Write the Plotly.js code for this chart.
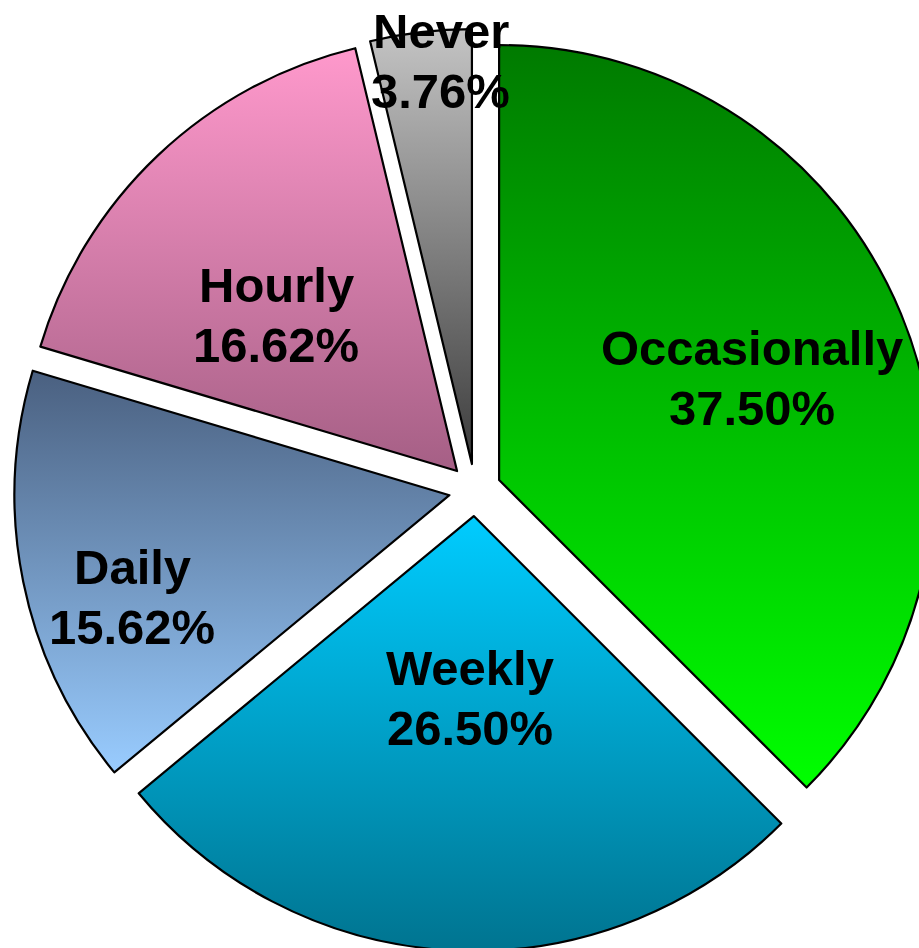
<!DOCTYPE html>
<html>
<head>
<meta charset="utf-8">
<script src="https://cdn.plot.ly/plotly-3.0.1.min.js"></script>
<style>
  html, body { margin: 0; padding: 0; background: #ffffff; overflow: hidden; }
  #chart { width: 936px; height: 951px; }
</style>
</head>
<body>
<div id="chart"></div>
<script>
// ---- data ----
const categories = ['Occasionally', 'Weekly', 'Daily', 'Hourly', 'Never'];
const shares = [37.50, 26.50, 15.62, 16.62, 3.76];

// ---- styles ----
const gradientStops = [
  ['#007A00', '#00FF00'],
  ['#00CCFF', '#007490'],
  ['#4A6080', '#99CCFF'],
  ['#FF99CC', '#A55F85'],
  ['#C4C4C4', '#3C3C3C']
];
const flatColors = ['#00BB00', '#00A0C8', '#7296C0', '#D07CA8', '#808080'];
const labelRadius = [0.687, 0.478, 0.825, 0.609, 0.99];
const labelAngleShift = [0.5, -1.3, -5.8, -5.2, 2.2];
const labelFontSize = 49;
const labelLineGap = 60;

const W = 936, H = 951;
const margin = {l: 14, r: 0, t: 29, b: 0};
const pullFrac = 0.06;

// geometry, following the pie's own sizing
const plotW = W - margin.l - margin.r;
const plotH = H - margin.t - margin.b;
const radius = Math.min(plotW, plotH) / (2 + 2 * pullFrac);
const cx = margin.l + plotW / 2;
const cy = margin.t + plotH / 2;
const total = shares.reduce((a, b) => a + b, 0);

const annotations = [];
let cum = 0;
shares.forEach((v, i) => {
  const mid = (cum + v / 2) / total;
  cum += v;
  const theta = (mid * 360 + labelAngleShift[i]) * Math.PI / 180;
  const px = cx + labelRadius[i] * radius * Math.sin(theta);
  const py = cy - labelRadius[i] * radius * Math.cos(theta);
  const lines = [categories[i], v.toFixed(2) + '%'];
  lines.forEach((txt, k) => {
    const ly = py + (k - 0.5) * labelLineGap;
    annotations.push({
      xref: 'paper', yref: 'paper',
      x: (px - margin.l) / plotW,
      y: 1 - (ly - margin.t) / plotH,
      xanchor: 'center', yanchor: 'middle',
      showarrow: false,
      text: '<b>' + txt + '</b>',
      font: {family: 'Liberation Sans, Arial, sans-serif', size: labelFontSize, color: '#000000'},
      align: 'center'
    });
  });
});

const trace = {
  type: 'pie',
  labels: categories,
  values: shares,
  sort: false,
  direction: 'clockwise',
  rotation: 0,
  pull: categories.map(() => pullFrac),
  textinfo: 'none',
  hoverinfo: 'skip',
  marker: {colors: flatColors, line: {color: '#000000', width: 2.2}},
  domain: {x: [0, 1], y: [0, 1]}
};

const layout = {
  width: W, height: H,
  margin: margin,
  showlegend: false,
  paper_bgcolor: '#ffffff',
  plot_bgcolor: '#ffffff',
  annotations: annotations
};

Plotly.newPlot('chart', [trace], layout, {staticPlot: true, displayModeBar: false}).then(() => {
  const svg = document.querySelector('#chart .main-svg');
  const NS = 'http://www.w3.org/2000/svg';
  const defs = document.createElementNS(NS, 'defs');
  gradientStops.forEach((g, i) => {
    const lg = document.createElementNS(NS, 'linearGradient');
    lg.setAttribute('id', 'sliceGrad' + i);
    lg.setAttribute('x1', '0'); lg.setAttribute('y1', '0');
    lg.setAttribute('x2', '0'); lg.setAttribute('y2', '1');
    [[0, g[0]], [1, g[1]]].forEach(([o, c]) => {
      const s = document.createElementNS(NS, 'stop');
      s.setAttribute('offset', String(o));
      s.setAttribute('stop-color', c);
      lg.appendChild(s);
    });
    defs.appendChild(lg);
  });
  svg.insertBefore(defs, svg.firstChild);
  document.querySelectorAll('#chart .slice path.surface').forEach((p, i) => {
    if (gradientStops[i]) p.style.fill = 'url(#sliceGrad' + i + ')';
  });
});
</script>
</body>
</html>
